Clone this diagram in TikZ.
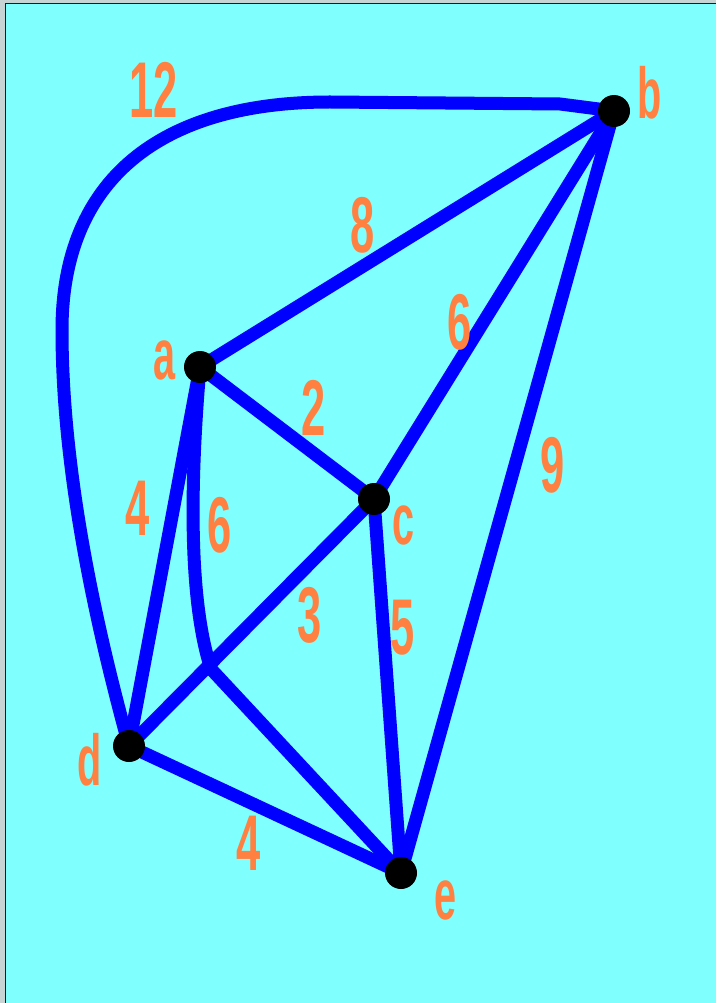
\documentclass[tikz,border=0pt]{standalone}
\usepackage{fontspec}
\setmainfont{Liberation Sans}
\usetikzlibrary{backgrounds}
\definecolor{colFond}{RGB}{128,255,255}
\definecolor{colArete}{RGB}{0,0,255}
\definecolor{colPoids}{RGB}{255,128,64}
\definecolor{colCadre}{RGB}{200,212,212}
\newcommand{\etroit}[1]{\scalebox{0.55}[1]{#1}}

\begin{document}
\begin{tikzpicture}[x=0.02cm, y=-0.02cm,
    sommet/.style={circle, fill=black, minimum size=0.64cm, inner sep=0pt},
    arete/.style={colArete, line width=7.4pt, line join=round},
    poids/.style={colPoids, inner sep=0pt, font=\bfseries\fontsize{45}{45}\selectfont},
    nom/.style={colPoids, inner sep=0pt, font=\bfseries\fontsize{41}{41}\selectfont}]

\useasboundingbox (0,0) rectangle (716,1003);

% Sommets
\node[sommet] (a) at (200,367) {};
\node[sommet] (b) at (614,111) {};
\node[sommet] (c) at (374,499) {};
\node[sommet] (d) at (129,746) {};
\node[sommet] (e) at (401,873) {};

% Points de passage des arêtes courbes
\coordinate (g0) at (560,104);
\coordinate (g1) at (330,102);
\coordinate (g2) at (62,330);
\coordinate (ae) at (211,669);

% Noms des sommets
\node[nom] (na) at (165,360) {\etroit{a}};
\node[nom] (nb) at (650,93)  {\etroit{b}};
\node[nom] (nc) at (404,525) {\etroit{c}};
\node[nom] (nd) at (90,760)  {\etroit{d}};
\node[nom] (ne) at (446,900) {\etroit{e}};

% Poids des arêtes
\node[poids] (pbd) at (154,90)  {\etroit{12}};
\node[poids] (pab) at (363,225) {\etroit{8}};
\node[poids] (pbc) at (460,322) {\etroit{6}};
\node[poids] (pac) at (314,408) {\etroit{2}};
\node[poids] (pbe) at (553,465) {\etroit{9}};
\node[poids] (pad) at (138,508) {\etroit{4}};
\node[poids] (pae) at (220,525) {\etroit{6}};
\node[poids] (pcd) at (310,615) {\etroit{3}};
\node[poids] (pce) at (403,628) {\etroit{5}};
\node[poids] (pde) at (249,843) {\etroit{4}};

\begin{scope}[on background layer]
% Fond et cadre
\fill[colFond] (0,0) rectangle (716,1003);
\fill[colCadre] (0,0) rectangle (5,1003);
\fill[colCadre] (0,0) rectangle (716,3);
\draw[colArete, line width=1pt] (716,3.6) -| (5.6,1003);

% Arêtes
\draw[arete] (b.center) -- (g0) -- (g1)
    .. controls (160,102) and (62,180) .. (g2)
    .. controls (62,480) and (100,640) .. (d.center);
\draw[arete] (a.center) -- (b.center);
\draw[arete] (b.center) -- (c.center);
\draw[arete] (b.center) -- (e.center);
\draw[arete] (a.center) -- (c.center);
\draw[arete] (a.center) -- (d.center);
\draw[arete] (a.center) .. controls (186,530) and (195,620) .. (ae) -- (e.center);
\draw[arete] (c.center) -- (d.center);
\draw[arete] (c.center) -- (e.center);
\draw[arete] (d.center) -- (e.center);
\end{scope}

\end{tikzpicture}
\end{document}
